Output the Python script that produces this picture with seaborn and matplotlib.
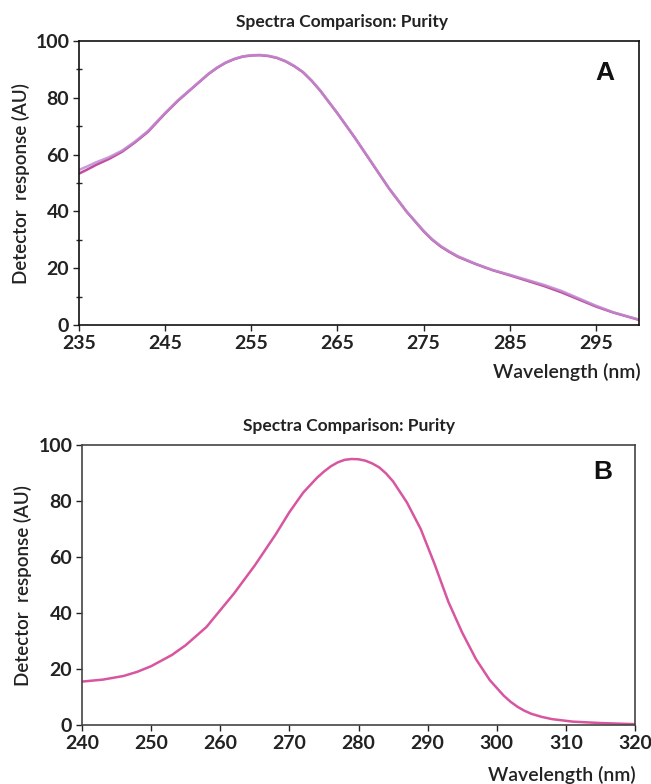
import numpy as np
import pandas as pd
import matplotlib
matplotlib.use("Agg")
import matplotlib.pyplot as plt
import seaborn as sns

# Data
wl_a = [235, 236, 237, 238.5, 240, 241.5, 243, 245, 246.5, 248, 250, 251, 252, 253, 254, 255, 256, 257, 258,
        259, 260, 261, 262, 263, 265, 267, 269, 271, 273, 275, 276, 277, 278, 279, 281, 283, 285, 287,
        289, 291, 293, 295, 297, 300]
resp_a1 = [53.3, 54.8, 56.4, 58.5, 61.0, 64.3, 68.0, 74.5, 79.0, 83.0, 88.3, 90.5, 92.3, 93.6, 94.5, 94.9, 95.0,
           94.7, 94.0, 92.8, 91.1, 89.0, 86.0, 82.5, 74.5, 66.0, 57.0, 48.0, 40.0, 33.0, 30.0, 27.6, 25.7,
           24.0, 21.5, 19.3, 17.5, 15.6, 13.7, 11.5, 9.0, 6.5, 4.4, 1.8]
resp_a2 = [54.6, 55.9, 57.3, 59.1, 61.4, 64.6, 68.3, 74.7, 79.2, 83.1, 88.4, 90.6, 92.4, 93.7, 94.6, 95.0, 95.1,
           94.8, 94.1, 92.9, 91.2, 89.1, 86.1, 82.6, 74.6, 66.1, 57.1, 48.1, 40.1, 33.2, 30.2, 27.8, 25.9,
           24.2, 21.6, 19.4, 17.7, 15.9, 14.1, 12.0, 9.4, 6.8, 4.5, 1.9]

wl_b = [240, 243, 246, 248, 250, 253, 255, 258, 260, 262, 265, 268, 270, 272, 274, 275, 276, 277, 278, 279,
        280, 281, 282, 283, 284, 285, 287, 289, 291, 293, 295, 297, 299, 301, 302, 303, 304, 305, 306.5,
        308, 311, 315, 320]
resp_b = [15.5, 16.2, 17.5, 19.0, 21.0, 25.0, 28.5, 35.0, 41.0, 47.0, 57.0, 68.0, 76.0, 83.0, 88.3, 90.5, 92.4,
          93.8, 94.7, 95.0, 94.9, 94.4, 93.4, 92.0, 89.8, 87.0, 79.5, 70.0, 57.5, 44.0, 33.0, 23.5, 16.0,
          10.5, 8.3, 6.5, 5.1, 4.0, 2.9, 2.1, 1.2, 0.7, 0.3]

xticks_a = [235, 245, 255, 265, 275, 285, 295]
xticks_b = [240, 250, 260, 270, 280, 290, 300, 310, 320]
yticks = [0, 20, 40, 60, 80, 100]

title = "Spectra Comparison: Purity"
ylab = "Detector  response (AU)"
xlab = "Wavelength (nm)"

df_a = pd.DataFrame({
    "wl": wl_a * 2,
    "resp": resp_a1 + resp_a2,
    "run": ["1"] * len(wl_a) + ["2"] * len(wl_a),
})
df_b = pd.DataFrame({"wl": wl_b, "resp": resp_b})

sns.set_style("ticks")
plt.rcParams["font.family"] = ["Lato", "DejaVu Sans"]

W, H = 651, 784
fig = plt.figure(figsize=(W / 100, H / 100), dpi=100)

ax_a = fig.add_axes([79 / W, 1 - 325 / H, 560 / W, 284 / H])
ax_b = fig.add_axes([82 / W, 1 - 725 / H, 553 / W, 280 / H])

sns.lineplot(data=df_a, x="wl", y="resp", hue="run", palette=["#b52e8c", "#c08ad0"],
             linewidth=1.8, alpha=0.85, legend=False, ax=ax_a)
sns.lineplot(data=df_b, x="wl", y="resp", color="#d8559f", linewidth=1.8, ax=ax_b)


def style(ax, xlim, xticks, spine_col):
    ax.set_xlim(*xlim)
    ax.set_ylim(0, 100)
    ax.set_xticks(xticks)
    ax.set_yticks(yticks)
    ax.set_xlabel("")
    ax.set_ylabel("")
    for s in ax.spines.values():
        s.set_visible(True)
        s.set_color(spine_col)
        s.set_linewidth(1.2)
    ax.tick_params(axis="both", direction="out", length=4, width=1, colors="#222222",
                   labelsize=14, pad=3)
    for lbl in ax.get_xticklabels() + ax.get_yticklabels():
        lbl.set_fontweight("bold")
        lbl.set_color("#222222")


style(ax_a, (235, 300), xticks_a, "#111111")
style(ax_b, (240, 320), xticks_b, "#444444")

ax_a.set_yticks([10, 30, 50, 70, 90], minor=True)
ax_a.tick_params(axis="y", which="minor", direction="inout", length=5, width=1)

fig.text(342 / W, 1 - 22 / H, title, ha="center", va="center", fontsize=12.5,
         fontweight="bold", color="#222222")
fig.text(349 / W, 1 - 426 / H, title, ha="center", va="center", fontsize=12.5,
         fontweight="bold", color="#222222")

fig.text(21 / W, 1 - 184 / H, ylab, rotation=90, ha="center", va="center", fontsize=13.5,
         fontweight="semibold", color="#222222")
fig.text(23 / W, 1 - 586 / H, ylab, rotation=90, ha="center", va="center", fontsize=13.5,
         fontweight="semibold", color="#222222")

fig.text(641 / W, 1 - 372 / H, xlab, ha="right", va="center", fontsize=14,
         fontweight="semibold", color="#222222")
fig.text(636 / W, 1 - 775 / H, xlab, ha="right", va="center", fontsize=14,
         fontweight="semibold", color="#222222")

ax_a.text(605 / W, 1 - 73 / H, "A", transform=fig.transFigure, ha="center", va="center",
          fontsize=19, fontweight="bold", family="Liberation Sans", color="#111111")
ax_b.text(603 / W, 1 - 472 / H, "B", transform=fig.transFigure, ha="center", va="center",
          fontsize=19, fontweight="bold", family="Liberation Sans", color="#111111")

fig.savefig("out.png", dpi=100)
